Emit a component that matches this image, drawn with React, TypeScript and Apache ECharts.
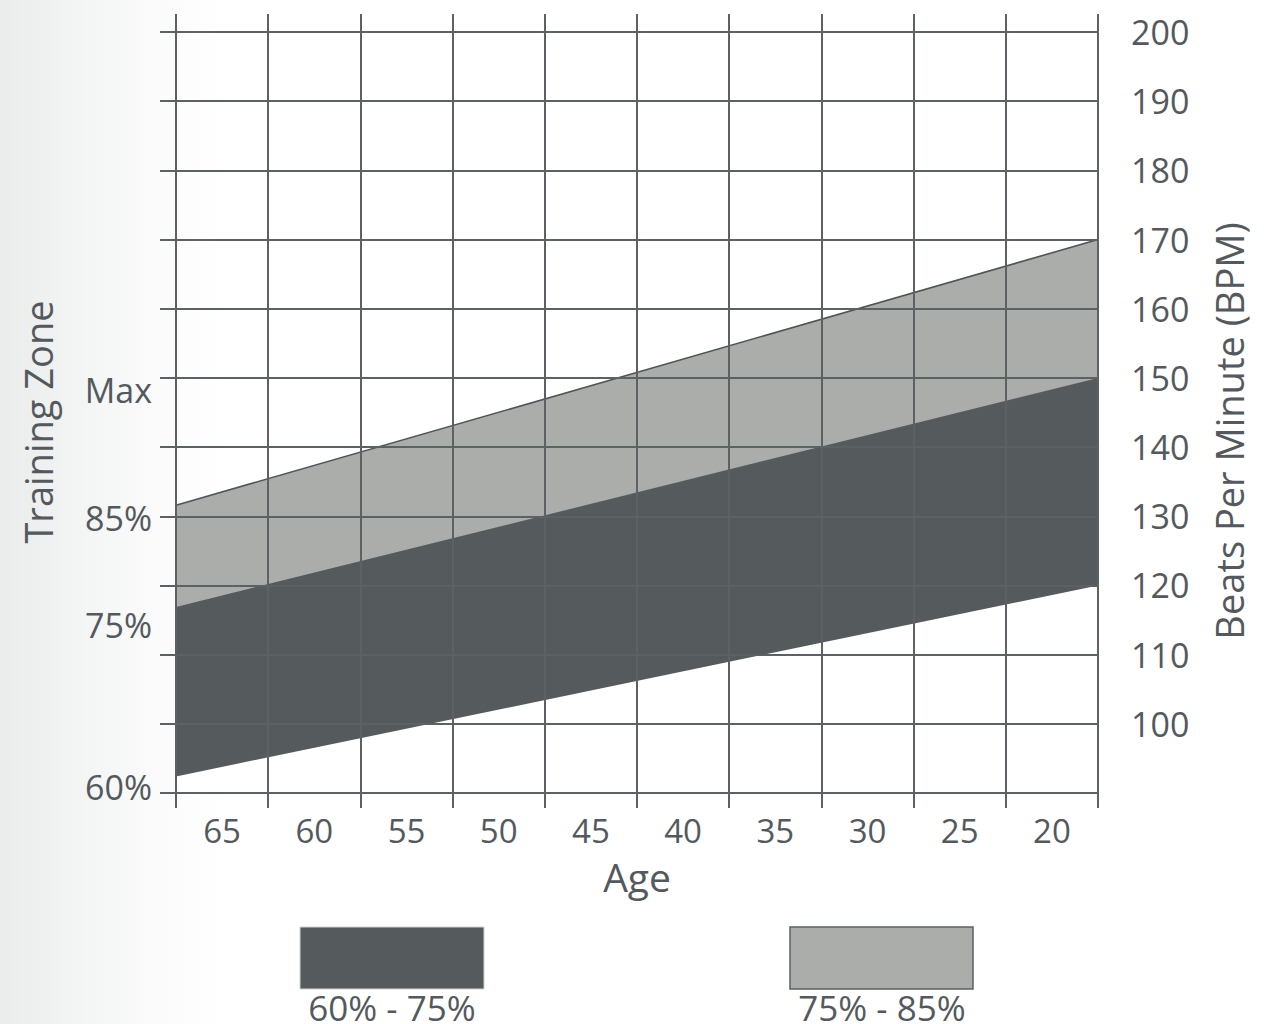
import React, { useEffect, useRef } from "react";
import * as echarts from "echarts";

// Age labels, shown in the middle of each column (oldest on the left)
const ageLabels = ["65", "60", "55", "50", "45", "40", "35", "30", "25", "20"];
// Position of the band ends along the age axis (left edge = 0, right edge = 10)
const bandX = [0, 10];
// Heart rate (BPM) at each end for each training-zone boundary
const zone60 = [92.4, 120];
const zone75 = [116.9, 150];
const zone85 = [131.6, 170];
// Right axis (BPM) range
const bpmMin = 90;
const bpmMax = 200;
const bpmStep = 10;
// Left axis zone labels and the BPM level each one sits at
const zoneLabels = ["Max", "85%", "75%", "60%"];
const zoneLabelValues = [148.3, 129.8, 114.3, 90.9];
// Legend labels
const legendLabels = ["60% - 75%", "75% - 85%"];

const DARK = "#555b5d";
const LIGHT = "#abadaa";
const GRID = "#5b6164";
const TEXT = "#53595c";
const FONT = "'Open Sans', 'Noto Sans', sans-serif";

export default function App() {
  const ref = useRef<HTMLDivElement>(null);
  useEffect(() => {
    if (!ref.current) return;
    const chart = echarts.init(ref.current, undefined, { renderer: "svg" });
    const pts = (vals: number[]) => vals.map((v, i) => [bandX[i], v]);
    const bandSeries = (name: string, vals: number[], fill: string, line: any) => ({
      type: "line",
      name,
      xAxisIndex: 1,
      yAxisIndex: 0,
      z: 1,
      symbol: "none",
      data: pts(vals),
      lineStyle: line,
      areaStyle: { color: fill, opacity: 1, origin: "start" },
    });
    const option: any = {
      animation: false,
      grid: [
        { left: 176, right: 186, top: 32, bottom: 231 },
        { left: 176, right: 186, top: 14, bottom: 231 },
      ],
      xAxis: [
        {
          type: "category",
          gridIndex: 0,
          data: ageLabels,
          boundaryGap: true,
          position: "bottom",
          z: 5,
          name: "Age",
          nameLocation: "middle",
          nameGap: 64,
          nameTextStyle: { fontFamily: FONT, fontSize: 39, color: TEXT },
          axisLine: { show: true, lineStyle: { color: GRID, width: 2 } },
          axisTick: { show: true, interval: 0, length: 15, lineStyle: { color: GRID, width: 2 } },
          axisLabel: { interval: 0, margin: 21, fontFamily: FONT, fontSize: 33, color: TEXT },
          splitLine: { show: false },
        },
        {
          type: "value",
          gridIndex: 0,
          min: 0,
          max: 10,
          show: false,
        },
        {
          type: "value",
          gridIndex: 1,
          min: 0,
          max: 10,
          interval: 1,
          z: 5,
          axisLine: { show: false },
          axisTick: { show: false },
          axisLabel: { show: false },
          splitLine: { show: true, lineStyle: { color: GRID, width: 2 } },
        },
      ],
      yAxis: [
        {
          type: "value",
          gridIndex: 0,
          position: "right",
          min: bpmMin,
          max: bpmMax,
          interval: bpmStep,
          z: 5,
          axisLine: { show: true, lineStyle: { color: GRID, width: 2 } },
          axisTick: { show: true, length: 14, lineStyle: { color: GRID, width: 2 } },
          axisLabel: {
            margin: 33,
            fontFamily: FONT,
            fontSize: 34,
            color: TEXT,
            formatter: (v: number) => (v === bpmMin ? "" : String(v)),
          },
          splitLine: { show: true, lineStyle: { color: GRID, width: 2 } },
        },
        {
          type: "value",
          gridIndex: 0,
          position: "left",
          min: bpmMin,
          max: bpmMax,
          interval: bpmStep,
          z: 5,
          axisLine: { show: true, lineStyle: { color: GRID, width: 2 } },
          axisTick: { show: true, length: 16, lineStyle: { color: GRID, width: 2 } },
          axisLabel: {
            customValues: zoneLabelValues,
            margin: 24,
            fontFamily: FONT,
            fontSize: 34,
            color: TEXT,
            formatter: (v: number) => {
              const i = zoneLabelValues.findIndex((x) => Math.abs(x - v) < 0.01);
              return i >= 0 ? zoneLabels[i] : "";
            },
          },
          splitLine: { show: false },
        },
        {
          type: "value",
          gridIndex: 1,
          min: 0,
          max: 1,
          show: false,
        },
      ],
      series: [
        bandSeries(legendLabels[1], zone85, LIGHT, { width: 1.6, color: "#4f5557" }),
        bandSeries(legendLabels[0], zone75, DARK, { width: 0, opacity: 0 }),
        bandSeries("below", zone60, "#ffffff", { width: 0, opacity: 0 }),
      ],
      graphic: [
        {
          type: "text",
          x: 38,
          y: 422,
          rotation: Math.PI / 2,
          style: {
            text: "Training Zone",
            fontFamily: FONT,
            fontSize: 38,
            fill: TEXT,
            align: "center",
            verticalAlign: "middle",
          },
        },
        {
          type: "text",
          x: 1229,
          y: 431,
          rotation: Math.PI / 2,
          style: {
            text: "Beats Per Minute (BPM)",
            fontFamily: FONT,
            fontSize: 38,
            fill: TEXT,
            align: "center",
            verticalAlign: "middle",
          },
        },
        {
          type: "rect",
          shape: { x: 300, y: 927, width: 184, height: 62 },
          style: { fill: DARK, stroke: "#d0d2d2", lineWidth: 1 },
        },
        {
          type: "rect",
          shape: { x: 790, y: 927, width: 183, height: 62 },
          style: { fill: LIGHT, stroke: GRID, lineWidth: 1.5 },
        },
        {
          type: "text",
          x: 392,
          y: 1007,
          style: {
            text: legendLabels[0],
            fontFamily: FONT,
            fontSize: 35,
            fill: TEXT,
            align: "center",
            verticalAlign: "middle",
          },
        },
        {
          type: "text",
          x: 882,
          y: 1007,
          style: {
            text: legendLabels[1],
            fontFamily: FONT,
            fontSize: 35,
            fill: TEXT,
            align: "center",
            verticalAlign: "middle",
          },
        },
      ],
    };
    chart.setOption(option);
    return () => chart.dispose();
  }, []);
  return (
    <div
      ref={ref}
      style={{
        position: "fixed",
        left: 0,
        top: 0,
        width: 1284,
        height: 1024,
        background: "linear-gradient(90deg, #eaecec 0px, #f4f5f5 90px, #fcfcfc 170px, #ffffff 230px)",
      }}
    />
  );
}
